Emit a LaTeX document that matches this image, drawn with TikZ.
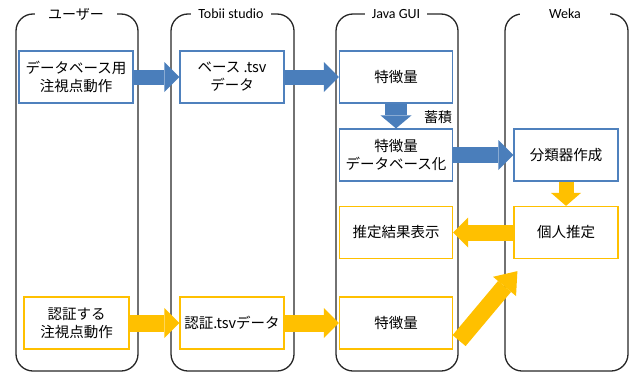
\documentclass[tikz,border=0pt]{standalone}
\usepackage{fontspec}
\setmainfont{Noto Sans CJK JP}
\newfontfamily\latinfont{Carlito}
\usepackage{tikz}
\usetikzlibrary{arrows.meta,calc}
\definecolor{boxblue}{RGB}{79,129,189}
\definecolor{arrowblue}{RGB}{74,126,187}
\definecolor{boxgold}{RGB}{255,192,0}
\tikzset{
    lane/.style={draw=black!85, line width=1.3pt, rounded corners=17pt},
    lanetitle/.style={fill=white, inner xsep=7pt, inner ysep=3pt, font=\fontsize{14}{16}\selectfont},
    bluebox/.style={draw=boxblue, line width=1.2pt, fill=white, align=center, inner sep=0pt,
        minimum width=113pt, minimum height=52pt, font=\fontsize{14.5}{18}\selectfont},
    goldbox/.style={bluebox, draw=boxgold},
    narrow/.style={minimum width=104pt},
    bluearrow/.style={draw=arrowblue, line width=15pt, -{Triangle[length=15pt, width=30pt, line width=0pt]}},
    goldarrow/.style={bluearrow, draw=boxgold},
}
\begin{document}
\begin{tikzpicture}[x=1pt,y=-1pt]
\useasboundingbox (0,0) rectangle (636,372);
\draw[lane] (16,14) rectangle (138,371);
\draw[lane] (171,14) rectangle (294,371);
\draw[lane] (336,14) rectangle (458,371);
\draw[lane] (505,14) rectangle (628,371);

\node[lanetitle, minimum width=82pt] (titleuser) at (76,14) {ユーザー};
\node[lanetitle] (titletobii) at (231,14) {\latinfont Tobii studio};
\node[lanetitle] (titlejava) at (396,14) {\latinfont Java GUI};
\node[lanetitle, minimum width=90pt] (titleweka) at (565,14) {\latinfont Weka};

\node[bluebox, minimum width=114pt] (gazedb) at (76,77) {データベース用\\注視点動作};
\node[bluebox, narrow] (basetsv) at (232,77) {ベース .tsv\\データ};
\node[bluebox] (feattop) at (396,77) {特徴量};
\node[bluebox] (featdb) at (396,155) {特徴量\\データベース化};
\node[bluebox, narrow] (classifier) at (566,155) {分類器作成};
\node[goldbox, narrow] (identify) at (566,232.5) {個人推定};
\node[goldbox] (result) at (396,232.5) {推定結果表示};
\node[goldbox] (featbottom) at (396,323) {特徴量};
\node[goldbox, minimum width=105pt] (authgaze) at (76.5,323) {認証する\\注視点動作};
\node[goldbox, narrow] (authtsv) at (232,323) {認証.tsvデータ};
\node[font=\fontsize{14}{16}\selectfont] (storelabel) at (438,117) {蓄積};

\coordinate (diagfrom) at ($(featbottom.south east)+(6,-9)$);
\coordinate (diagto) at ($(identify.south west)+(4,12)$);

\draw[bluearrow] (gazedb) -- (basetsv);
\draw[bluearrow] (basetsv) -- (feattop);
\draw[bluearrow, line width=22pt, -{Triangle[length=13pt, width=31pt, line width=0pt]}] (feattop) -- (featdb);
\draw[bluearrow, line width=16pt] (featdb) -- (classifier);
\draw[goldarrow, -{Triangle[length=13pt, width=30pt, line width=0pt]}] (classifier) -- (identify);
\draw[goldarrow, line width=16pt] (identify) -- (result);
\draw[goldarrow, line width=17pt] (authgaze) -- (authtsv);
\draw[goldarrow, line width=17pt] (authtsv) -- (featbottom);
\draw[goldarrow, line width=17pt, -{Triangle[length=20pt, width=30pt, line width=0pt]}] (diagfrom) -- (diagto);
\end{tikzpicture}
\end{document}
